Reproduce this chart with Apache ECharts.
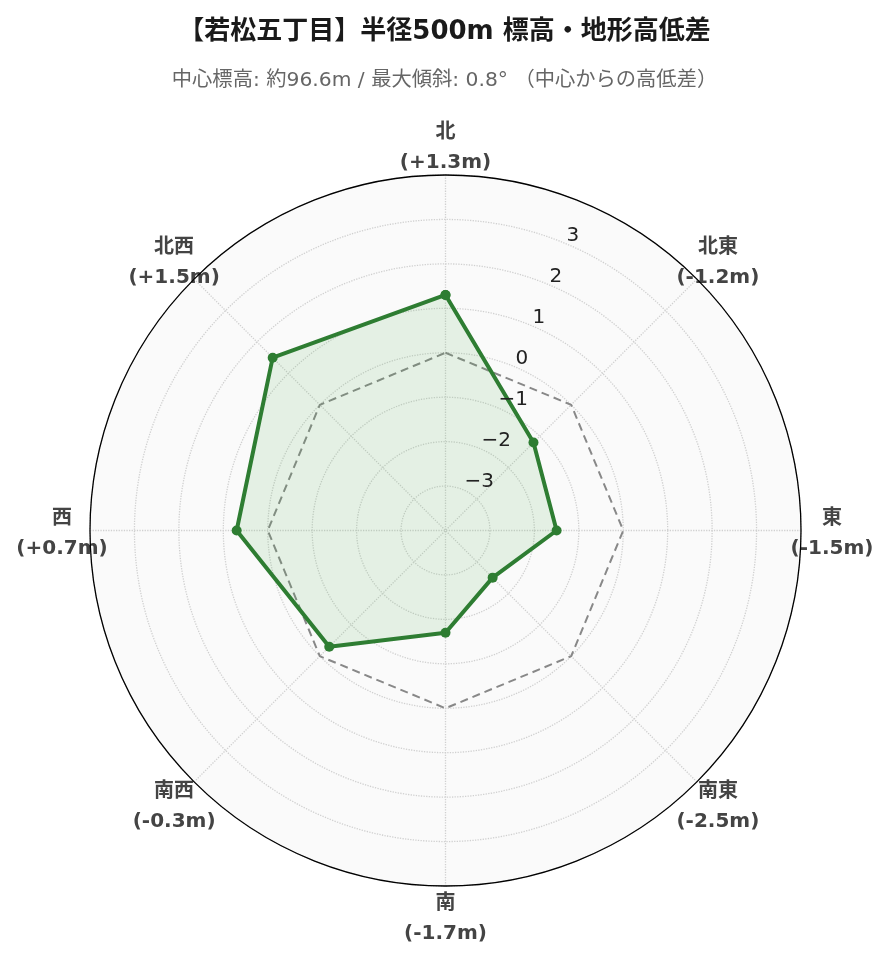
<!DOCTYPE html>
<html>
<head>
<meta charset="utf-8">
<style>
  html, body { margin: 0; padding: 0; background: #ffffff; }
  #chart { width: 889px; height: 962px; }
</style>
<script src="https://cdn.jsdelivr.net/npm/echarts@6/dist/echarts.min.js"></script>
</head>
<body>
<div id="chart"></div>
<script>
// ---- data ----
const titleText = '【若松五丁目】半径500m 標高・地形高低差';
const subtitleText = '中心標高: 約96.6m / 最大傾斜: 0.8° （中心からの高低差）';
const directions = ['北', '北東', '東', '南東', '南', '南西', '西', '北西'];
const bearings = [0, 45, 90, 135, 180, 225, 270, 315];
const elevationDiff = [1.3, -1.2, -1.5, -2.5, -1.7, -0.3, 0.7, 1.5];
const zeroReference = [0, 0, 0, 0, 0, 0, 0, 0];
const radialTicks = [-3, -2, -1, 0, 1, 2, 3];
const radialMin = -4;
const radialMax = 4;

// ---- helpers ----
const FONT = "'DejaVu Sans', 'Noto Sans CJK JP', sans-serif";
const closeLoop = (vals) => vals.map((v, i) => [v, bearings[i]]).concat([[vals[0], bearings[0]]]);
const signed = (v) => (v > 0 ? '+' : v < 0 ? '-' : '') + Math.abs(v).toFixed(1);
const minus = (v) => (v < 0 ? '\u2212' + Math.abs(v) : String(v));

// label box styling per direction (width of the centring box, line heights of the two lines)
const labelBoxStyle = [
  { w: null, lh: [36, 24] },  // N
  { w: 42,   lh: [58, 2] },   // NE
  { w: 62,   lh: [36, 24] },  // E
  { w: 42,   lh: [20, 40] },  // SE
  { w: null, lh: [36, 24] },  // S
  { w: 40,   lh: [20, 40] },  // SW
  { w: 56,   lh: [36, 24] },  // W
  { w: 40,   lh: [58, 2] }    // NW
];
const baseLabel = { fontFamily: FONT, fontSize: 20, fontWeight: 'bold', color: '#444', align: 'center' };
const rich = {};
labelBoxStyle.forEach(function (s, i) {
  const extra = s.w ? { width: s.w } : {};
  rich['n' + i] = Object.assign({}, baseLabel, extra, { lineHeight: s.lh[0] });
  rich['v' + i] = Object.assign({}, baseLabel, extra, { lineHeight: s.lh[1] });
});

const chart = echarts.init(document.getElementById('chart'), null, { renderer: 'canvas' });

const center = [445.5, 530.5];
const radius = 355.5;
const gridLine = { color: '#d0d0d0', type: 'dotted', width: 1.3 };

chart.setOption({
  backgroundColor: '#ffffff',
  animation: false,
  textStyle: { fontFamily: FONT },
  title: [
    { text: titleText, left: 'center', top: 14,
      textStyle: { fontFamily: FONT, fontSize: 26, fontWeight: 'bold', color: '#1a1a1a' } },
    { text: subtitleText, left: 'center', top: 66,
      textStyle: { fontFamily: FONT, fontSize: 20.3, fontWeight: 'normal', color: '#666' } }
  ],
  polar: [
    { center: center, radius: radius },
    { center: center, radius: radius }
  ],
  angleAxis: [
    {
      polarIndex: 0,
      type: 'value',
      min: 0,
      max: 360,
      interval: 45,
      startAngle: 90,
      clockwise: true,
      z: 1,
      axisLine: { show: true, lineStyle: { color: '#000', width: 1.3 } },
      axisTick: { show: false },
      splitLine: { show: true, lineStyle: gridLine },
      splitArea: { show: false },
      axisLabel: {
        show: true,
        margin: 0,
        showMaxLabel: false,
        formatter: function (value) {
          const i = bearings.indexOf(value);
          if (i < 0 || value === 360) return '';
          return '{n' + i + '|' + directions[i] + '}\n{v' + i + '|(' + signed(elevationDiff[i]) + 'm)}';
        },
        rich: rich
      }
    },
    {
      polarIndex: 1,
      type: 'value',
      min: 0,
      max: 360,
      interval: 45,
      startAngle: 67.5,
      clockwise: true,
      z: 0,
      show: true,
      axisLine: { show: false },
      axisTick: { show: false },
      axisLabel: { show: false },
      splitLine: { show: false },
      splitArea: { show: true, areaStyle: { color: ['#fafafa'] } }
    }
  ],
  radiusAxis: [
    {
      polarIndex: 0,
      type: 'value',
      min: radialMin,
      max: radialMax,
      interval: 1,
      z: 1,
      axisLine: { show: false },
      axisTick: { show: false },
      axisLabel: { show: false },
      splitLine: { show: true, lineStyle: gridLine },
      splitArea: { show: false }
    },
    {
      polarIndex: 1,
      type: 'value',
      min: radialMin,
      max: radialMax,
      interval: 1,
      z: 10,
      axisLine: { show: false },
      axisTick: { show: false },
      splitLine: { show: false },
      splitArea: { show: false },
      axisLabel: {
        show: true,
        margin: 0,
        align: 'left',
        verticalAlign: 'bottom',
        lineHeight: 15,
        padding: [0, 0, 0, 2],
        fontFamily: FONT,
        fontSize: 20,
        color: '#222',
        formatter: function (v) {
          return radialTicks.indexOf(v) >= 0 ? minus(v) : '';
        }
      }
    }
  ],
  series: [
    {
      name: '基準 (0m)',
      type: 'line',
      coordinateSystem: 'polar',
      polarIndex: 0,
      clip: false,
      data: closeLoop(zeroReference),
      symbol: 'none',
      lineStyle: { color: '#888', width: 2, type: [8, 5] },
      z: 3
    },
    {
      name: '高低差',
      type: 'line',
      coordinateSystem: 'polar',
      polarIndex: 0,
      clip: false,
      data: closeLoop(elevationDiff),
      symbol: 'circle',
      symbolSize: 10,
      itemStyle: { color: '#2e7d32' },
      lineStyle: { color: '#2e7d32', width: 4 },
      areaStyle: { color: 'rgba(76,175,80,0.18)', origin: 'start' },
      z: 4
    }
  ]
});
</script>
</body>
</html>
